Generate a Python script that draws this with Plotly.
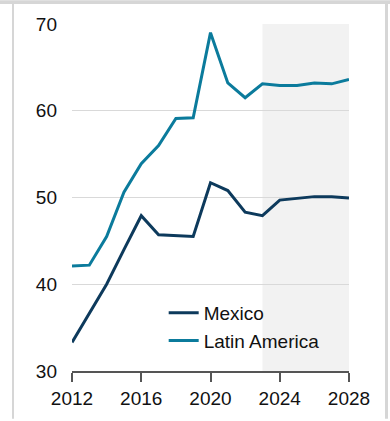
import plotly.graph_objects as go

years = list(range(2012, 2029))
mexico = [33.3, 36.6, 40.0, 44.0, 47.9, 45.7, 45.6, 45.5, 51.7, 50.8, 48.3, 47.9,
          49.7, 49.9, 50.1, 50.1, 49.95]
latin_america = [42.1, 42.2, 45.5, 50.6, 53.9, 56.0, 59.1, 59.2, 69.0, 63.2, 61.5,
                 63.1, 62.9, 62.9, 63.2, 63.1, 63.6]
forecast_start, forecast_end = 2023, 2028
x_ticks = [2012, 2016, 2020, 2024, 2028]
y_ticks = [30, 40, 50, 60, 70]

W, H = 390, 421
ML, MR, MT, MB = 72, 41, 24, 48
PW, PH = W - ML - MR, H - MT - MB


def px_x(p):
    return (p - ML) / PW


def px_y(p):
    return (H - MB - p) / PH


fig = go.Figure()
fig.add_trace(go.Scatter(x=years, y=mexico, name="Mexico", mode="lines",
                         line=dict(color="#0d3a5c", width=3)))
fig.add_trace(go.Scatter(x=years, y=latin_america, name="Latin America", mode="lines",
                         line=dict(color="#0b7b9c", width=3)))

shapes = [
    # forecast band
    dict(type="rect", xref="x", yref="y", x0=forecast_start, x1=forecast_end,
         y0=30, y1=70, fillcolor="#f2f2f2", line=dict(width=0), layer="below"),
    # frame around the panel
    dict(type="rect", xref="paper", yref="paper", x0=px_x(0), x1=px_x(W),
         y0=px_y(4), y1=px_y(0), fillcolor="#d6d6d6", line=dict(width=0)),
    dict(type="rect", xref="paper", yref="paper", x0=px_x(12), x1=px_x(14),
         y0=px_y(H), y1=px_y(4), fillcolor="#d6d6d6", line=dict(width=0)),
    dict(type="rect", xref="paper", yref="paper", x0=px_x(385), x1=px_x(388),
         y0=px_y(H), y1=px_y(4), fillcolor="#d6d6d6", line=dict(width=0)),
]

fig.update_layout(
    width=W, height=H,
    margin=dict(l=ML, r=MR, t=MT, b=MB),
    paper_bgcolor="white", plot_bgcolor="white",
    font=dict(family="Liberation Sans, Arial, sans-serif", size=19, color="#111111"),
    shapes=shapes,
    showlegend=True,
    legend=dict(x=0.331, y=0.222, xanchor="left", yanchor="top",
                bgcolor="rgba(0,0,0,0)", font=dict(size=19), tracegroupgap=0,
                itemwidth=30),
    xaxis=dict(range=[2012, 2028], tickvals=x_ticks, showgrid=False, zeroline=False,
               showline=True, linecolor="#555555", linewidth=1.5,
               ticks="outside", ticklen=9, tickcolor="#555555", tickwidth=1.5),
    yaxis=dict(range=[30, 70], tickvals=y_ticks, showgrid=True, gridcolor="#d9d9d9",
               gridwidth=1, zeroline=False, showline=False, ticks="",
               ticklabelstandoff=14),
)

fig.write_html("out.html")
